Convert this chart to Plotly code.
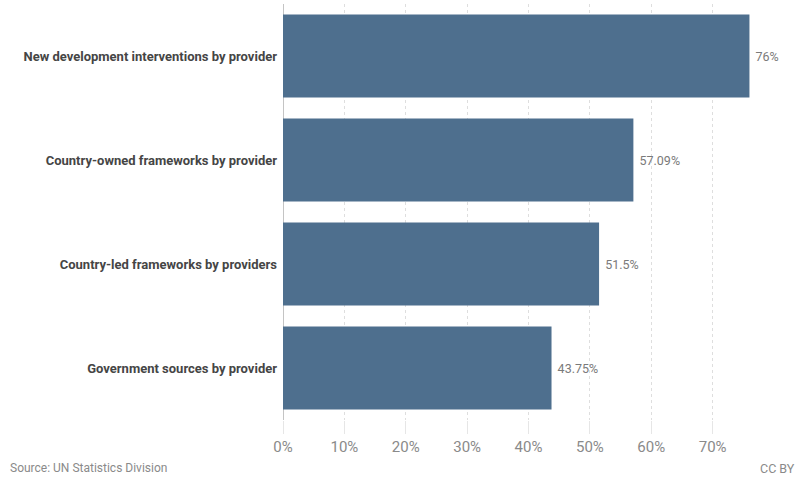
import plotly.graph_objects as go

categories = [
    "New development interventions by provider",
    "Country-owned frameworks by provider",
    "Country-led frameworks by providers",
    "Government sources by provider",
]
values = [76, 57.09, 51.5, 43.75]
tick_vals = [0, 10, 20, 30, 40, 50, 60, 70]
tick_text = ["0%", "10%", "20%", "30%", "40%", "50%", "60%", "70%"]

bar_color = "#4e6f8e"

fig = go.Figure(
    go.Bar(
        y=categories,
        x=values,
        orientation="h",
        marker=dict(color=bar_color, line=dict(width=0)),
        text=[f"\u00a0{v}%" for v in values],
        textposition="outside",
        textfont=dict(family="Roboto", size=12.5, color="#7a7a7a"),
        cliponaxis=False,
        hoverinfo="skip",
    )
)

fig.update_layout(
    width=799,
    height=477,
    margin=dict(l=283, r=25, t=4, b=57),
    paper_bgcolor="white",
    plot_bgcolor="white",
    bargap=0.2,
    showlegend=False,
    xaxis=dict(
        range=[0, 80],
        tickvals=tick_vals,
        ticktext=tick_text,
        tickfont=dict(family="Roboto", size=15, color="#8a8a8a"),
        showgrid=True,
        gridcolor="#dedede",
        griddash="dot",
        gridwidth=1,
        zeroline=True,
        zerolinecolor="#c4c4c4",
        zerolinewidth=1,
        ticks="outside",
        ticklen=13,
        tickcolor="#e6e6e6",
        showline=False,
        fixedrange=True,
    ),
    yaxis=dict(
        categoryorder="array",
        categoryarray=categories[::-1],
        tickfont=dict(family="Roboto", size=13, color="#454545", weight="bold"),
        ticks="",
        ticklabelstandoff=5,
        showgrid=False,
        showline=False,
        fixedrange=True,
    ),
    annotations=[
        dict(
            text="Source: UN Statistics Division",
            x=0, xref="paper", xshift=-274,
            y=0, yref="paper", yshift=-48,
            xanchor="left", yanchor="middle",
            showarrow=False, borderpad=0,
            font=dict(family="Roboto", size=12, color="#8a8a8a"),
        ),
        dict(
            text="CC BY",
            x=1, xref="paper", xshift=22,
            y=0, yref="paper", yshift=-48,
            xanchor="right", yanchor="middle",
            showarrow=False, borderpad=0,
            font=dict(family="Roboto", size=12.5, color="#8a8a8a"),
        ),
    ],
)

fig.write_html("out.html")
